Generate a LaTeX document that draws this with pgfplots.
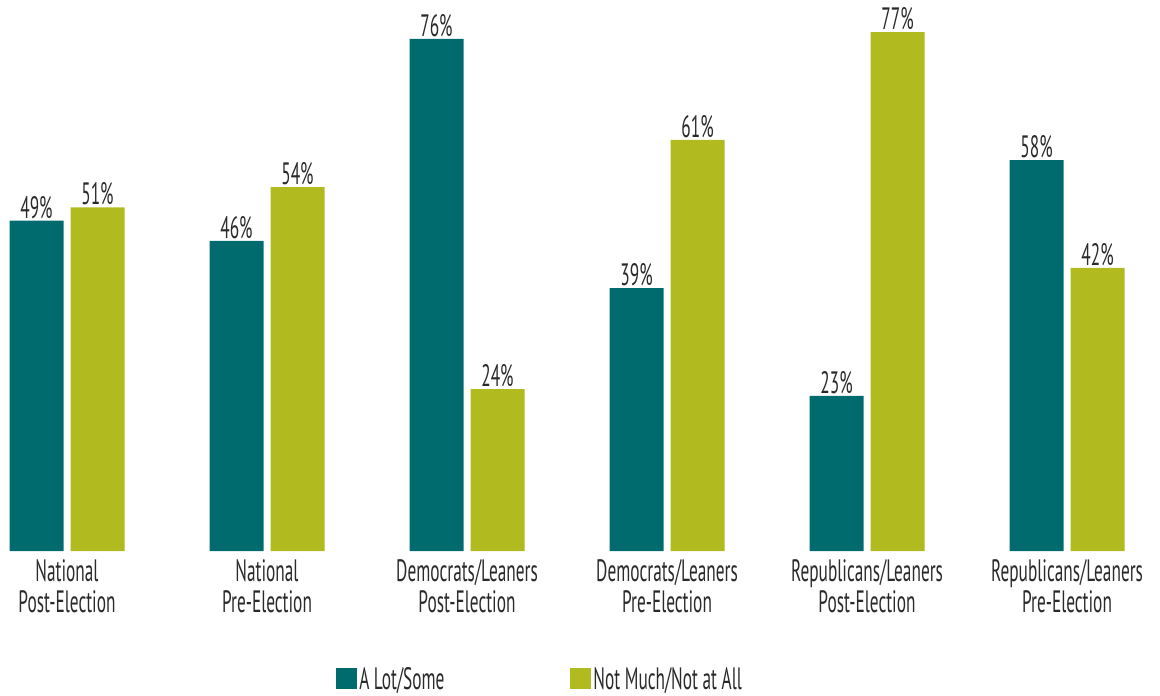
\documentclass[border=0pt]{standalone}
\usepackage{pgfplots}
\pgfplotsset{compat=1.18}
\usepackage{fontspec}
\setmainfont{PT Sans}[FakeStretch=0.56]
\definecolor{teal1}{HTML}{006B6E}
\definecolor{olive1}{HTML}{B1BB1F}
\definecolor{txt}{HTML}{2B2A2B}
\begin{document}
\begin{tikzpicture}
\begin{axis}[
  name=ax,
  x=200bp, y=6.74bp,
  xmin=-0.335, xmax=5.465, ymin=0, ymax=81.75,
  axis x line=bottom,
  x axis line style={draw=none, -},
  hide y axis,
  clip=false,
  ybar=7bp, bar width=54bp,
  xtick={0,1,2,3,4,5},
  xticklabels={{National\\Post-Election},{National\\Pre-Election},{Democrats/Leaners\\Post-Election},{Democrats/Leaners\\Pre-Election},{Republicans/Leaners\\Post-Election},{Republicans/Leaners\\Pre-Election}},
  major tick length=0pt,
  xtick style={draw=none},
  xticklabel style={align=center, font=\fontsize{31}{31}\selectfont, text=txt, yshift=-5bp},
  /pgf/number format/assume math mode=true,
  nodes near coords={\pgfmathprintnumber{\pgfplotspointmeta}\%},
  every node near coord/.append style={font=\fontsize{31}{30}\selectfont, text=txt, inner sep=2bp},
  legend style={at={(0.2897,-0.232)}, anchor=west, draw=none, fill=none, inner sep=0pt,
    font=\fontsize{31}{30}\selectfont, text=txt, legend columns=2,
    /tikz/every even column/.append style={column sep=124bp}},
  legend image code/.code={\fill[#1,draw=none] (0bp,-10.5bp) rectangle (21bp,10.5bp);},
]
\addplot[fill=teal1, draw=none] coordinates {(0,49) (1,46) (2,76) (3,39) (4,23) (5,58)};
\addplot[fill=olive1, draw=none] coordinates {(0,51) (1,54) (2,24) (3,61) (4,77) (5,42)};
\legend{A Lot/Some, Not Much/Not at All}
\end{axis}
\pgfresetboundingbox
\useasboundingbox (ax.south west) ++(0,-145bp) rectangle (ax.north east);
\end{tikzpicture}
\end{document}
